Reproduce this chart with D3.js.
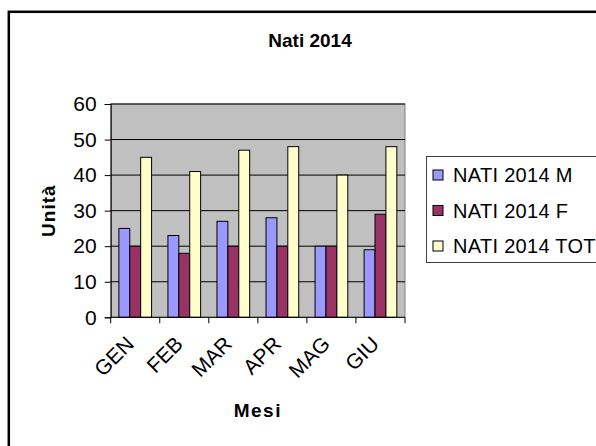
<!DOCTYPE html>
<html>
<head>
<meta charset="utf-8">
<script src="https://cdn.jsdelivr.net/npm/d3@7"></script>
<style>
  html, body { margin: 0; padding: 0; background: #fff; }
  svg { display: block; font-family: Arial, "Liberation Sans", sans-serif; }
</style>
</head>
<body>
<svg id="chart" width="596" height="446"></svg>
<script>
const months = ["GEN", "FEB", "MAR", "APR", "MAG", "GIU"];
const seriesNames = ["NATI 2014 M", "NATI 2014 F", "NATI 2014 TOT"];
const natiM = [25, 23, 27, 28, 20, 19];
const natiF = [20, 18, 20, 20, 20, 29];
const natiTot = [45, 41, 47, 48, 40, 48];
const yTicks = [0, 10, 20, 30, 40, 50, 60];
const colors = ["#9999FF", "#993366", "#FFFFCC"];
const seriesValues = [natiM, natiF, natiTot];

const svg = d3.select("#chart");
const plot = { left: 110.7, right: 405, top: 104, bottom: 317.3 };

// outer frame
svg.append("rect")
  .attr("x", 8.8).attr("y", 11.8)
  .attr("width", 700).attr("height", 600)
  .attr("fill", "none").attr("stroke", "#000").attr("stroke-width", 2.5);

const x = d3.scaleBand().domain(months).range([plot.left, plot.right]).padding(0);
const xInner = d3.scaleBand().domain(seriesNames).range([0, x.bandwidth()])
  .paddingInner(0).paddingOuter(0.75);
const y = d3.scaleLinear().domain([0, 60]).range([plot.bottom, plot.top]);

// plot background
svg.append("rect")
  .attr("x", plot.left).attr("y", plot.top)
  .attr("width", plot.right - plot.left).attr("height", plot.bottom - plot.top)
  .attr("fill", "#C0C0C0").attr("stroke", "#808080").attr("stroke-width", 1);

// gridlines
svg.append("g").selectAll("line").data(yTicks.filter(d => d > 0)).join("line")
  .attr("x1", plot.left).attr("x2", plot.right)
  .attr("y1", d => y(d)).attr("y2", d => y(d))
  .attr("stroke", "#000").attr("stroke-width", 1);

// bars
const groups = svg.append("g").selectAll("g").data(seriesNames).join("g")
  .attr("fill", (d, i) => colors[i]);
groups.each(function (s, si) {
  d3.select(this).selectAll("rect").data(months.map((m, mi) => ({ m, v: seriesValues[si][mi] })))
    .join("rect")
    .attr("x", d => x(d.m) + xInner(s))
    .attr("width", xInner.bandwidth())
    .attr("y", d => y(d.v))
    .attr("height", d => y(0) - y(d.v))
    .attr("stroke", "#000").attr("stroke-width", 1);
});

// y axis
const yAxis = svg.append("g")
  .attr("transform", `translate(${plot.left},0)`)
  .call(d3.axisLeft(y).tickValues(yTicks).tickSize(6).tickPadding(8).tickFormat(d3.format("d")));
yAxis.select(".domain").attr("stroke", "#000");
yAxis.selectAll(".tick line").attr("stroke", "#000");
yAxis.selectAll("text").attr("font-size", 21).attr("fill", "#000")
  .attr("font-family", "Arial, 'Liberation Sans', sans-serif");

// x axis line + ticks at band boundaries
const xAxisG = svg.append("g");
xAxisG.append("line")
  .attr("x1", plot.left).attr("x2", plot.right)
  .attr("y1", plot.bottom).attr("y2", plot.bottom)
  .attr("stroke", "#000");
const boundaries = months.map(m => x(m)).concat([plot.right]);
xAxisG.selectAll("line.tk").data(boundaries).join("line").attr("class", "tk")
  .attr("x1", d => d).attr("x2", d => d)
  .attr("y1", plot.bottom).attr("y2", plot.bottom + 6)
  .attr("stroke", "#000");
xAxisG.selectAll("text").data(months).join("text")
  .attr("transform", d => `translate(${x(d) + x.bandwidth() / 2},${plot.bottom + 28}) rotate(-45)`)
  .attr("text-anchor", "end")
  .attr("font-size", 21)
  .attr("fill", "#000")
  .text(d => d);

// titles
svg.append("text")
  .attr("x", 310).attr("y", 47)
  .attr("text-anchor", "middle")
  .attr("font-size", 19).attr("font-weight", "bold")
  .text("Nati 2014");

svg.append("text")
  .attr("x", (plot.left + plot.right) / 2).attr("y", 417)
  .attr("text-anchor", "middle")
  .attr("font-size", 19).attr("font-weight", "bold")
  .attr("letter-spacing", 1.5)
  .text("Mesi");

svg.append("text")
  .attr("transform", `translate(55,${(plot.top + plot.bottom) / 2}) rotate(-90)`)
  .attr("text-anchor", "middle")
  .attr("font-size", 19).attr("font-weight", "bold")
  .attr("letter-spacing", 1)
  .text("Unità");

// legend
const legend = svg.append("g");
legend.append("rect")
  .attr("x", 426.5).attr("y", 156.5)
  .attr("width", 300).attr("height", 106)
  .attr("fill", "#fff").attr("stroke", "#404040").attr("stroke-width", 1);
const legendY = d3.scalePoint().domain(seriesNames).range([175, 246]);
const li = legend.selectAll("g.item").data(seriesNames).join("g").attr("class", "item")
  .attr("transform", d => `translate(0,${legendY(d)})`);
li.append("rect")
  .attr("x", 433).attr("y", -5).attr("width", 10).attr("height", 10)
  .attr("fill", (d, i) => colors[i]).attr("stroke", "#000").attr("stroke-width", 1);
li.append("text")
  .attr("x", 453).attr("y", 7)
  .attr("font-size", 20).attr("letter-spacing", 0.3)
  .attr("fill", "#000")
  .text(d => d);
</script>
</body>
</html>
